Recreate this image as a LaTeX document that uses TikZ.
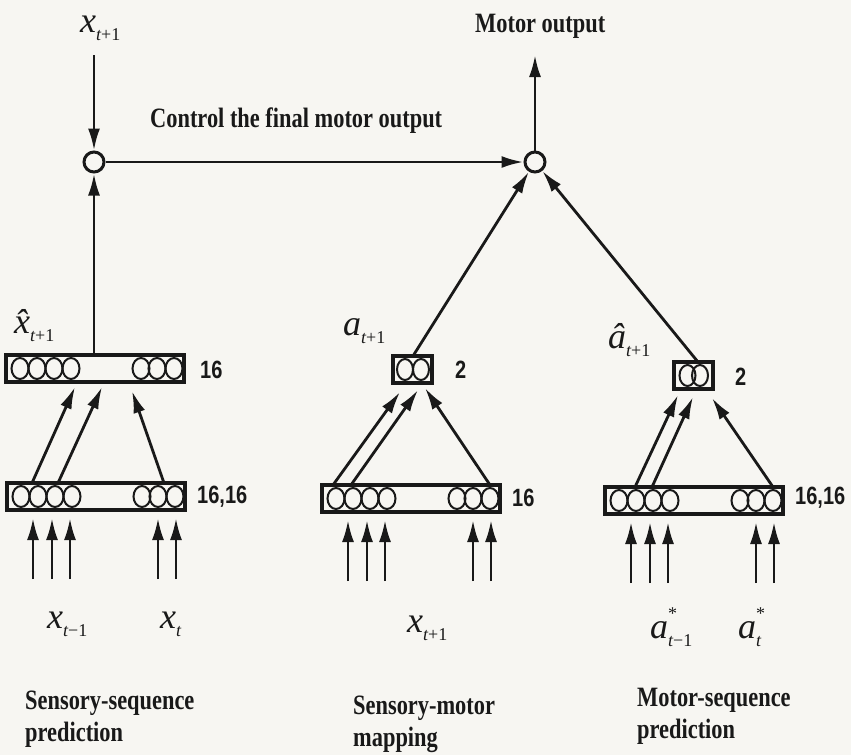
\documentclass[tikz,border=0pt]{standalone}
\usepackage{fontspec}
\setmainfont{Liberation Serif}
\newfontfamily\ttlfont[FakeStretch=0.8]{Liberation Serif}
\newfontfamily\numfont[FakeStretch=0.8]{Liberation Sans}
\usetikzlibrary{arrows.meta,calc}
\definecolor{ink}{RGB}{25,25,25}
\definecolor{paper}{RGB}{247,246,242}
\newcommand\ml[1]{{\fontsize{36pt}{36pt}\selectfont\itshape #1}}
\newcommand\subx[1]{\raisebox{-8pt}{\fontsize{18pt}{18pt}\selectfont #1}}
\newcommand\starx{\rlap{\raisebox{19pt}{\fontsize{18pt}{18pt}\selectfont *}}}
\newcommand\biglayer[3]{%
  \foreach \dx in {14,31,48,65,135,151,168}{\draw[unitst] (#2+\dx,#3+13.5) ellipse [x radius=8.5pt,y radius=10.5pt];}
  \node[layer,minimum width=178pt,anchor=north west] (#1) at (#2,#3) {};}
\newcommand\smalllayer[5]{%
  \foreach \dx in {#4,#5}{\draw[unitst] (#2+\dx,#3+13.5) ellipse [x radius=8pt,y radius=10.5pt];}
  \node[layer,minimum width=39pt,anchor=north west] (#1) at (#2,#3) {};}
\tikzset{
  conn/.style={draw=ink,line width=2.8pt,-{Latex[length=22pt,width=12pt]}},
  layer/.style={draw=ink,line width=3.2pt,rectangle,minimum height=27pt,inner sep=0pt,outer sep=0pt},
  unitst/.style={draw=ink,line width=2pt},
  junction/.style={draw=ink,line width=3pt,circle,minimum size=20pt,inner sep=0pt,fill=paper},
  mlabel/.style={anchor=base west,inner sep=0pt,text=ink},
  numlabel/.style={anchor=west,inner sep=0pt,text=ink,font=\numfont\bfseries\fontsize{25pt}{25pt}\selectfont},
  ttl/.style={inner sep=0pt,text=ink,font=\ttlfont\bfseries\fontsize{28pt}{32pt}\selectfont},
}
\begin{document}
\begin{tikzpicture}[x=1pt,y=-1pt]
\fill[paper] (0,0) rectangle (851,755);
\useasboundingbox (0,0) rectangle (851,755);

% layers
\biglayer{LT}{6}{355}
\biglayer{LB}{7}{483}
\smalllayer{MT}{393}{356}{12}{28}
\biglayer{MB}{322}{485}
\smalllayer{RT}{674}{362}{13.5}{26}
\biglayer{RB}{605}{487}

% junctions
\node[junction] (C1) at (94,162) {};
\node[junction] (C2) at (535,162) {};

% free ends
\coordinate (xin) at (94,55);
\coordinate (mout) at (535,55);

% top connectors
\draw[conn] (xin) -- (C1);
\draw[conn] (C1) -- (C2);
\draw[conn] (C2) -- (mout);
\draw[conn] ($(LT.north west)+(88,0)$) -- (C1);
\draw[conn] ($(MT.north west)+(20,0)$) -- (C2);
\draw[conn] ($(RT.north west)+(24,0)$) -- (C2);

% layer to layer
\draw[conn] ($(LB.north west)+(25,0)$) -- ($(LT.south west)+(69,5)$);
\draw[conn] ($(LB.north west)+(51,0)$) -- ($(LT.south west)+(96,5)$);
\draw[conn] ($(LB.north west)+(157,0)$) -- ($(LT.south west)+(126,9)$);
\draw[conn] ($(MB.north west)+(11,0)$) -- ($(MT.south west)+(7,9)$);
\draw[conn] ($(MB.north west)+(29,0)$) -- ($(MT.south west)+(25,7)$);
\draw[conn] ($(MB.north west)+(168,0)$) -- ($(MT.south west)+(32,5)$);
\draw[conn] ($(RB.north west)+(30,0)$) -- ($(RT.south west)+(4,6)$);
\draw[conn] ($(RB.north west)+(47,0)$) -- ($(RT.south west)+(19,8)$);
\draw[conn] ($(RB.north west)+(168,0)$) -- ($(RT.south west)+(38,9)$);

% input arrows
\foreach \L in {LB,MB,RB}{
  \foreach \dx [count=\i] in {26,45,63,151,169}{
    \coordinate (\L in\i) at ($(\L.south west)+(\dx,69)$);
    \draw[conn,shorten >=8pt] (\L in\i) -- (\L in\i |- \L.south);
  }
}

% math labels
\node[mlabel] (lxtop) at (80,32) {\ml{x}\subx{\itshape t\upshape +1}};
\node[mlabel] (lxhat) at (14,333) {\ml{\^{x}}\subx{\itshape t\upshape +1}};
\node[mlabel] (la) at (343,335) {\ml{a}\subx{\itshape t\upshape +1}};
\node[mlabel] (lahat) at (608,348) {\ml{\^{a}}\subx{\itshape t\upshape +1}};
\node[mlabel] (lx1) at (47,628) {\ml{x}\subx{\itshape t\upshape −1}};
\node[mlabel] (lx2) at (160,628) {\ml{x}\subx{\itshape t}};
\node[mlabel] (lx3) at (407,632) {\ml{x}\subx{\itshape t\upshape +1}};
\node[mlabel] (la1) at (650,638) {\ml{a}\starx\subx{\itshape t\upshape −1}};
\node[mlabel] (la2) at (738,638) {\ml{a}\starx\subx{\itshape t}};

% size labels
\node[numlabel] (n1) at (200,370) {16};
\node[numlabel] (n2) at (197,497) {16,16};
\node[numlabel] (n3) at (455,370) {2};
\node[numlabel] (n4) at (512,498) {16};
\node[numlabel] (n5) at (735,377) {2};
\node[numlabel] (n6) at (795,498) {16,16};

% titles
\node[ttl,anchor=base west] (tctrl) at (150,127) {Control the final motor output};
\node[ttl,anchor=base west] (tmot) at (475,32) {Motor output};
\node[ttl,anchor=north west,align=left] (t1) at (25,691) {Sensory-sequence\\prediction};
\node[ttl,anchor=north west,align=left] (t2) at (353,696) {Sensory-motor\\mapping};
\node[ttl,anchor=north west,align=left] (t3) at (637,688) {Motor-sequence\\prediction};
\end{tikzpicture}
\end{document}
